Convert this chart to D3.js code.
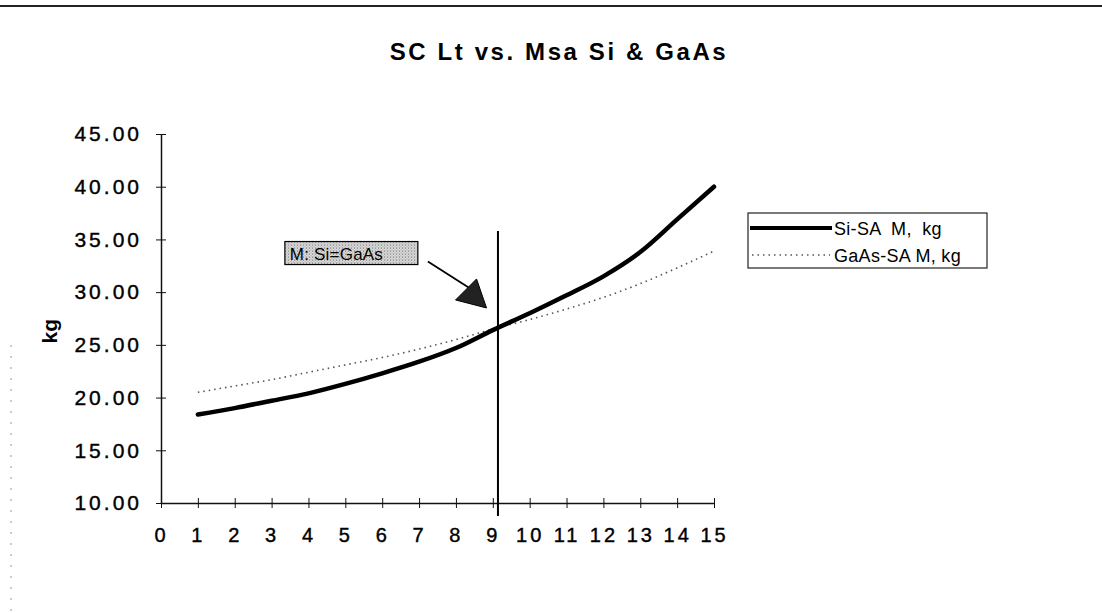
<!DOCTYPE html>
<html>
<head>
<meta charset="utf-8">
<script src="https://cdn.jsdelivr.net/npm/d3@7"></script>
<style>
  html, body { margin: 0; padding: 0; background: #fff; }
  svg { display: block; font-family: "Liberation Sans", Arial, sans-serif; }
</style>
</head>
<body>
<svg id="chart" width="1102" height="613"></svg>
<script>
// data
const xValues = [1, 2, 3, 4, 5, 6, 7, 8, 9, 10, 11, 12, 13, 14, 15];
const siMass = [18.4, 19.0, 19.7, 20.4, 21.3, 22.3, 23.4, 24.7, 26.4, 28.0, 29.7, 31.5, 33.8, 36.9, 40.0];
const gaasMass = [20.5, 21.1, 21.7, 22.4, 23.1, 23.8, 24.6, 25.5, 26.5, 27.4, 28.4, 29.5, 30.8, 32.3, 33.9];
const seriesNames = ['Si-SA  M,  kg', 'GaAs-SA M, kg'];
const xTicks = d3.range(0, 16);
const yTicks = [10, 15, 20, 25, 30, 35, 40, 45];
const crossX = 9.14;            // where the two masses meet
const noteAt = [3.36, 34.8];    // annotation box, data coords
const arrowTip = [8.83, 28.5];

const svg = d3.select('#chart');
const x = d3.scaleLinear().domain([0, 15]).range([161, 714]);
const y = d3.scaleLinear().domain([10, 45]).range([503, 134]);

// stipple fill for the note box
const defs = svg.append('defs');
const pat = defs.append('pattern')
  .attr('id', 'stipple').attr('width', 3).attr('height', 3)
  .attr('patternUnits', 'userSpaceOnUse');
pat.append('rect').attr('width', 3).attr('height', 3).attr('fill', '#f4f4f4');
pat.append('rect').attr('width', 1.2).attr('height', 1.2).attr('fill', '#555');
pat.append('rect').attr('x', 1.5).attr('y', 1.5).attr('width', 1.2).attr('height', 1.2).attr('fill', '#777');

// chart frame edge at the top
svg.append('line')
  .attr('x1', 0).attr('x2', 1102).attr('y1', 6).attr('y2', 6)
  .attr('stroke', '#222').attr('stroke-width', 2);
svg.append('line')
  .attr('x1', 11).attr('x2', 11).attr('y1', 345).attr('y2', 613)
  .attr('stroke', '#999').attr('stroke-width', 1).attr('stroke-dasharray', '2,9');

// title
svg.append('text')
  .attr('x', 559).attr('y', 60)
  .attr('text-anchor', 'middle')
  .style('font-size', '24px').style('font-weight', 'bold')
  .style('letter-spacing', '2.6px')
  .text('SC Lt vs. Msa Si & GaAs');

// y axis
const yAxis = d3.axisLeft(y).tickValues(yTicks).tickFormat(d3.format('.2f'))
  .tickSizeInner(6).tickSizeOuter(0).tickPadding(13);
const gy = svg.append('g').attr('transform', `translate(${x(0)},0)`).call(yAxis);
gy.select('.domain').attr('stroke', '#111').attr('stroke-width', 1.5);
gy.selectAll('.tick line').attr('x2', 5).attr('x1', -5).attr('stroke', '#111');
gy.selectAll('.tick text')
  .style('font-size', '21px').style('letter-spacing', '3px')
  .attr('fill', '#000').attr('stroke', '#000').attr('stroke-width', 0.4)
  .attr('font-family', '"Liberation Sans", Arial, sans-serif');

// x axis
const xAxis = d3.axisBottom(x).tickValues(xTicks).tickFormat(d3.format('d'))
  .tickSizeInner(5).tickSizeOuter(0).tickPadding(20);
const gx = svg.append('g').attr('transform', `translate(0,${y(10)})`).call(xAxis);
gx.select('.domain').attr('stroke', '#111').attr('stroke-width', 1.5);
gx.selectAll('.tick line').attr('y1', -5).attr('y2', 5).attr('stroke', '#111');
gx.selectAll('.tick text')
  .style('font-size', '20px').style('letter-spacing', '3px')
  .attr('fill', '#000').attr('stroke', '#000').attr('stroke-width', 0.4)
  .attr('font-family', '"Liberation Sans", Arial, sans-serif');

// y label
svg.append('text')
  .attr('transform', `translate(57,${y(26.3)}) rotate(-90)`)
  .attr('text-anchor', 'middle')
  .style('font-size', '21px').style('font-weight', 'bold')
  .text('kg');

// series
const line = d3.line().x(d => x(d[0])).y(d => y(d[1])).curve(d3.curveMonotoneX);
svg.append('path')
  .attr('d', line(xValues.map((v, i) => [v, gaasMass[i]])))
  .attr('fill', 'none').attr('stroke', '#555').attr('stroke-width', 1.6)
  .attr('stroke-dasharray', '1.5,4');
svg.append('path')
  .attr('d', line(xValues.map((v, i) => [v, siMass[i]])))
  .attr('fill', 'none').attr('stroke', '#000').attr('stroke-width', 4.5)
  .attr('stroke-linecap', 'round');

// crossover marker
svg.append('line')
  .attr('x1', x(crossX)).attr('x2', x(crossX))
  .attr('y1', y(35.8)).attr('y2', y(10) + 13)
  .attr('stroke', '#000').attr('stroke-width', 2);

// annotation box
const note = svg.append('g').attr('transform', `translate(${x(noteAt[0])},${y(noteAt[1])})`);
note.append('rect')
  .attr('width', 133).attr('height', 23)
  .attr('fill', 'url(#stipple)').attr('stroke', '#000').attr('stroke-width', 1.2);
note.append('text')
  .attr('x', 5).attr('y', 18)
  .style('font-size', '17px').style('letter-spacing', '0.2px')
  .text('M: Si=GaAs');

// arrow
const tx = x(arrowTip[0]), ty = y(arrowTip[1]);
svg.append('line')
  .attr('x1', x(noteAt[0]) + 143).attr('y1', y(noteAt[1]) + 20)
  .attr('x2', tx - 14).attr('y2', ty - 18)
  .attr('stroke', '#000').attr('stroke-width', 1.8);
svg.append('path')
  .attr('d', `M${tx},${ty} L${tx - 31},${ty - 8} L${tx - 10},${ty - 29} Z`)
  .attr('fill', '#222').attr('stroke', '#000').attr('stroke-width', 1);

// legend
const leg = svg.append('g').attr('transform', 'translate(748,213)');
leg.append('rect')
  .attr('width', 239).attr('height', 55)
  .attr('fill', '#fff').attr('stroke', '#222').attr('stroke-width', 1.2);
leg.append('line')
  .attr('x1', 2).attr('x2', 84).attr('y1', 15).attr('y2', 15)
  .attr('stroke', '#000').attr('stroke-width', 4);
leg.append('line')
  .attr('x1', 4).attr('x2', 82).attr('y1', 42).attr('y2', 42)
  .attr('stroke', '#555').attr('stroke-width', 1.6).attr('stroke-dasharray', '1.5,4');
leg.selectAll('text.lg').data(seriesNames).join('text')
  .attr('class', 'lg')
  .attr('x', 86).attr('y', (d, i) => 22 + i * 27)
  .style('font-size', '18px').style('letter-spacing', '0.3px')
  .style('white-space', 'pre')
  .text(d => d);
</script>
</body>
</html>
